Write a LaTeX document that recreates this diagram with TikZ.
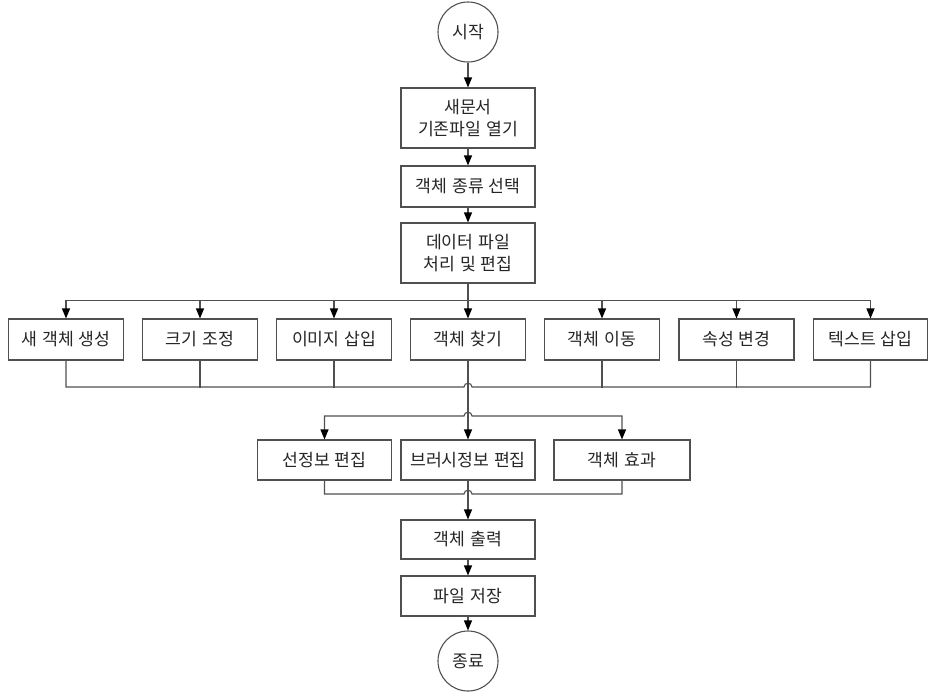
\documentclass[tikz,border=0pt]{standalone}
\usepackage{fontspec}
\newfontfamily\kr[WordSpace=1.25]{Noto Sans CJK KR}
\usetikzlibrary{arrows.meta}
\definecolor{linec}{RGB}{80,80,80}
\tikzset{
  box/.style={draw=linec, line width=1.1pt, fill=white, minimum width=134pt, minimum height=41pt,
    font=\kr\fontsize{17.2}{22}\selectfont, align=center, inner sep=2pt, text=black!85},
  rowbox/.style={box, minimum width=115pt},
  termc/.style={circle, draw=linec, line width=1.1pt, minimum size=60pt, inner sep=0pt,
    font=\kr\fontsize{17.2}{20}\selectfont, text=black!85},
  conn/.style={draw=linec, line width=1.1pt},
  arr/.style={conn, -{Triangle[length=10pt,width=8pt,color=black]}},
  arrb/.style={conn, {Triangle[length=10pt,width=8pt,color=black]}-{Triangle[length=10pt,width=8pt,color=black]}},
}
\begin{document}
\begin{tikzpicture}[x=1pt,y=-1pt]
\useasboundingbox (0,0) rectangle (928,691);
% nodes
\node[termc] (start) at (468,32) {시작};
\node[box, minimum height=60pt] (open) at (468,118) {새문서\\기존파일 열기};
\node[box] (kind) at (468,186.5) {객체 종류 선택};
\node[box, minimum height=60pt] (data) at (468,253) {데이터 파일\\처리 및 편집};
\node[rowbox] (n1) at (66,339.5) {새 객체 생성};
\node[rowbox] (n2) at (200,339.5) {크기 조정};
\node[rowbox] (n3) at (334,339.5) {이미지 삽입};
\node[rowbox] (find) at (468,339.5) {객체 찾기};
\node[rowbox] (n5) at (602,339.5) {객체 이동};
\node[rowbox] (n6) at (736.5,339.5) {속성 변경};
\node[rowbox, minimum width=114pt] (n7) at (870.5,339.5) {텍스트 삽입};
\node[box, minimum height=40pt] (sel) at (324.5,460) {선정보 편집};
\node[box, minimum height=40pt] (brush) at (468,460) {브러시정보 편집};
\node[box, minimum height=40pt, minimum width=136pt] (eff) at (622,460) {객체 효과};
\node[box, minimum height=39pt] (out) at (468,539.5) {객체 출력};
\node[box, minimum height=40pt] (save) at (468,596) {파일 저장};
\node[termc] (end) at (468,661) {종료};
% top chain
\draw[arr] (start) -- (open);
\draw[arr] (open) -- (kind);
\draw[arr] (kind) -- (data);
% branch to row
\draw[arr] (data.south) -- (find.north);
\foreach \n in {n1,n2,n3,n5,n6,n7}
  \draw[arr] (data.south) -- ++(0,17) -| (\n.north);
% merge bus of row (hop over spine)
\draw[conn] (n1.south) |- (464,387) .. controls (464,382) and (472,382) .. (472,387) -| (n7.south);
\foreach \n in {n2,n3,n5,n6}
  \draw[conn] (\n.south) -- ++(0,27.5);
% spine
\draw[arr] (find.south) -- (brush.north);
% second branch bus
\draw[arrb] (sel.north) |- (464,416) .. controls (464,411) and (472,411) .. (472,416) -| (eff.north);
% second merge bus
\draw[conn] (sel.south) |- (464,494) .. controls (464,489) and (472,489) .. (472,494) -| (eff.south);
\draw[arr] (brush.south) -- (out.north);
\draw[arr] (out) -- (save);
\draw[arr] (save) -- (end);
\end{tikzpicture}
\end{document}
